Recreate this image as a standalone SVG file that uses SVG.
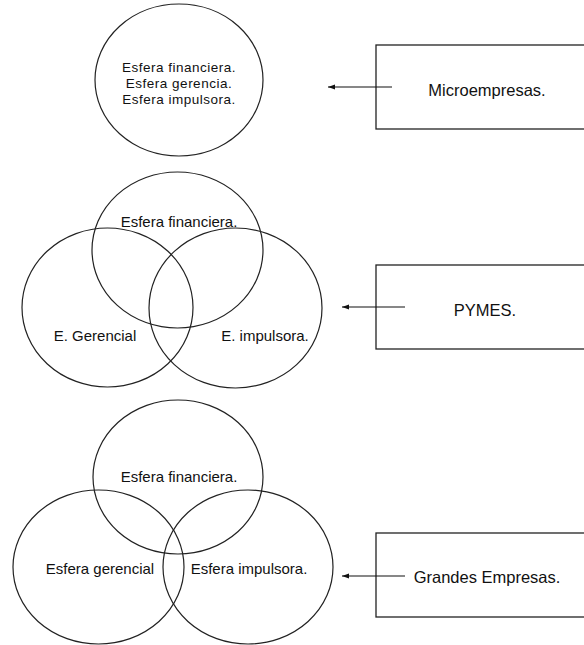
<svg xmlns="http://www.w3.org/2000/svg" width="584" height="645" viewBox="0 0 584 645">
<style>
.sh{fill:none;stroke:#222;stroke-width:1.2}
.bx{fill:#fff;stroke:#222;stroke-width:1.3}
.vt{font-family:"Liberation Sans",Arial,sans-serif;font-size:15px;fill:#111;text-anchor:middle}
.st{font-family:"Liberation Sans",Arial,sans-serif;font-size:13.5px;letter-spacing:0.5px;fill:#111;text-anchor:middle}
.bt{font-family:"Liberation Sans",Arial,sans-serif;font-size:16.5px;fill:#111;text-anchor:middle}
.cn{stroke:#111;stroke-width:1.2;fill:none;marker-end:url(#ah)}
</style>
<defs>
<marker id="ah" markerWidth="8" markerHeight="6" refX="7" refY="3" orient="auto" markerUnits="userSpaceOnUse">
<path d="M0,0.5 L7,3 L0,5.5 Z" fill="#111"/>
</marker>
</defs>
<rect width="584" height="645" fill="#fff"/>
<g id="micro-sphere">
<ellipse class="sh" cx="179" cy="80" rx="84" ry="76"/>
<text class="st" x="179" y="72">Esfera financiera.</text>
<text class="st" x="179" y="88">Esfera gerencia.</text>
<text class="st" x="179" y="104">Esfera impulsora.</text>
</g>
<g id="micro-box">
<rect class="bx" x="376" y="45" width="220" height="84"/>
<text class="bt" x="487" y="96">Microempresas.</text>
</g>
<g id="pymes-venn">
<ellipse class="sh" cx="177.5" cy="250" rx="85.5" ry="78"/>
<ellipse class="sh" cx="107.5" cy="307.5" rx="85.5" ry="79.5"/>
<ellipse class="sh" cx="235.5" cy="308" rx="86.5" ry="80"/>
<text class="vt" x="179" y="227">Esfera financiera.</text>
<text class="vt" x="95" y="341">E. Gerencial</text>
<text class="vt" x="265" y="341">E. impulsora.</text>
</g>
<g id="pymes-box">
<rect class="bx" x="376" y="265" width="220" height="84"/>
<text class="bt" x="485" y="316">PYMES.</text>
</g>
<g id="grandes-venn">
<ellipse class="sh" cx="178" cy="477" rx="85" ry="77"/>
<ellipse class="sh" cx="98.5" cy="567" rx="85.5" ry="77"/>
<ellipse class="sh" cx="248" cy="567" rx="85" ry="77"/>
<text class="vt" x="179" y="482">Esfera financiera.</text>
<text class="vt" x="100" y="574">Esfera gerencial</text>
<text class="vt" x="249" y="574">Esfera impulsora.</text>
</g>
<g id="grandes-box">
<rect class="bx" x="376" y="533" width="220" height="84"/>
<text class="bt" x="487" y="583">Grandes Empresas.</text>
</g>
<g id="connectors">
<line class="cn" x1="392" y1="87" x2="328" y2="87"/>
<line class="cn" x1="405" y1="307" x2="342" y2="307"/>
<line class="cn" x1="405" y1="576" x2="342" y2="576"/>
</g>
</svg>
